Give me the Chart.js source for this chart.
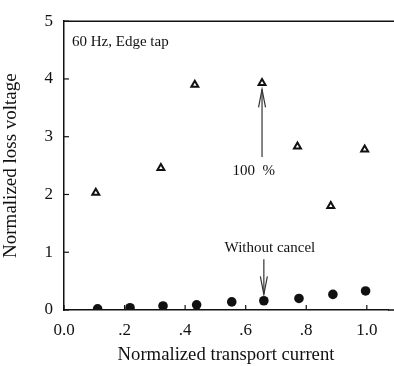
<!DOCTYPE html>
<html>
<head>
<meta charset="utf-8">
<script src="https://cdn.jsdelivr.net/npm/chart.js@4/dist/chart.umd.min.js"></script>
<style>
  html,body{margin:0;padding:0;background:#fff;}
  #wrap{width:394px;height:366px;}
</style>
</head>
<body>
<div id="wrap"><canvas id="chart" width="394" height="366"></canvas></div>
<script>
// 100 % cancel (triangles) and without cancel (dots)
const triX = [0.105, 0.32, 0.432, 0.654, 0.771, 0.881, 0.993];
const triY = [2.03, 2.46, 3.90, 3.93, 2.83, 1.80, 2.78];
const dotX = [0.111, 0.218, 0.327, 0.438, 0.554, 0.66, 0.776, 0.888, 0.996];
const dotY = [0.02, 0.04, 0.07, 0.09, 0.14, 0.16, 0.20, 0.27, 0.33];
const xTicks = ['0.0', '.2', '.4', '.6', '.8', '1.0'];
const yTicks = ['0', '1', '2', '3', '4', '5'];

const SERIF = "'Liberation Serif', 'Times New Roman', serif";

function pts(xs, ys){ return xs.map((x,i)=>({x, y: ys[i]})); }

// top frame line + inward tick marks
const framePlugin = {
  id:'frame',
  afterDraw(chart){
    const {ctx, chartArea:a, scales} = chart;
    ctx.save();
    ctx.strokeStyle = '#111';
    ctx.lineWidth = 1.5;
    ctx.beginPath();
    ctx.moveTo(a.left, a.top); ctx.lineTo(chart.width, a.top);
    ctx.moveTo(a.right, a.bottom); ctx.lineTo(chart.width, a.bottom);
    ctx.stroke();
    ctx.lineWidth = 1.2;
    scales.x.ticks.forEach(t=>{
      const px = scales.x.getPixelForValue(t.value);
      ctx.beginPath(); ctx.moveTo(px, a.bottom); ctx.lineTo(px, a.bottom-5); ctx.stroke();
    });
    scales.y.ticks.forEach(t=>{
      const py = scales.y.getPixelForValue(t.value);
      ctx.beginPath(); ctx.moveTo(a.left, py); ctx.lineTo(a.left+5, py); ctx.stroke();
    });
    ctx.restore();
  }
};

function arrow(ctx, x, y1, y2){
  // line from y1 to y2, head at y2
  const dir = y2 < y1 ? 1 : -1;
  ctx.beginPath(); ctx.moveTo(x, y1); ctx.lineTo(x, y2); ctx.stroke();
  ctx.beginPath();
  ctx.moveTo(x-3.5, y2 + dir*18); ctx.lineTo(x, y2); ctx.lineTo(x+3.5, y2 + dir*18);
  ctx.stroke();
}

const notesPlugin = {
  id:'notes',
  afterDatasetsDraw(chart){
    const {ctx, chartArea:a, scales:{x, y}} = chart;
    ctx.save();
    ctx.fillStyle = '#111';
    ctx.strokeStyle = '#333';
    ctx.lineWidth = 1.2;
    ctx.font = '15px ' + SERIF;
    ctx.textBaseline = 'middle';
    ctx.textAlign = 'left';
    ctx.fillText('60 Hz, Edge tap', a.left + 8, a.top + 21);
    ctx.textAlign = 'center';
    ctx.fillText('100  %', x.getPixelForValue(0.627), y.getPixelForValue(2.40));
    ctx.fillText('Without cancel', x.getPixelForValue(0.68), y.getPixelForValue(1.07));
    arrow(ctx, x.getPixelForValue(0.654), y.getPixelForValue(2.65), y.getPixelForValue(3.82));
    arrow(ctx, x.getPixelForValue(0.66), y.getPixelForValue(0.88), y.getPixelForValue(0.27));
    ctx.restore();
  }
};

new Chart(document.getElementById('chart'), {
  type:'scatter',
  data:{
    datasets:[
      {
        label:'100 %',
        data: pts(triX, triY),
        pointStyle:'triangle',
        pointRadius:4,
        borderColor:'#111',
        borderWidth:2,
        backgroundColor:'#fff'
      },
      {
        label:'Without cancel',
        data: pts(dotX, dotY),
        pointStyle:'circle',
        pointRadius:4.8,
        borderColor:'#111',
        borderWidth:0,
        backgroundColor:'#111'
      }
    ]
  },
  options:{
    responsive:false,
    animation:false,
    layout:{padding:{top:14, right:0, left:0, bottom:0}},
    plugins:{ legend:{display:false}, tooltip:{enabled:false} },
    scales:{
      x:{
        type:'linear', min:0, max:1.07,
        afterFit: s => { s.height = 56; },
        grid:{display:false, drawTicks:false},
        border:{display:true, color:'#111', width:1.5},
        ticks:{
          stepSize:0.2, includeBounds:false, padding:10,
          color:'#111', font:{family:SERIF, size:17},
          callback:(v)=> xTicks[Math.round(v/0.2)]
        },
        title:{display:true, text:'Normalized transport current', color:'#111',
          font:{family:SERIF, size:18.7}, padding:{top:1, bottom:0}}
      },
      y:{
        type:'linear', min:0, max:5,
        afterFit: s => { s.width = 64; },
        grid:{display:false, drawTicks:false},
        border:{display:true, color:'#111', width:1.5},
        ticks:{
          stepSize:1, padding:11,
          color:'#111', font:{family:SERIF, size:17},
          callback:(v)=> yTicks[v]
        },
        title:{display:true, text:'Normalized loss voltage', color:'#111',
          font:{family:SERIF, size:19}, padding:{top:0, bottom:3}}
      }
    }
  },
  plugins:[framePlugin, notesPlugin]
});
</script>
</body>
</html>
